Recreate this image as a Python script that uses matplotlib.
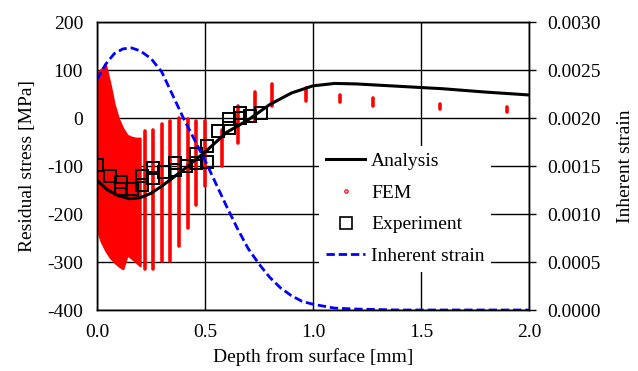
import numpy as np
import matplotlib.pyplot as plt
from matplotlib.lines import Line2D

plt.rcParams['font.family'] = ['Liberation Serif', 'DejaVu Serif']
plt.rcParams['font.size'] = 14
plt.rcParams['axes.unicode_minus'] = False

# analysis curve (residual stress, MPa)
ana_x = [0.0, 0.05, 0.10, 0.15, 0.20, 0.25, 0.30, 0.40, 0.50, 0.60, 0.70, 0.80,
         0.90, 1.00, 1.10, 1.20, 1.40, 1.60, 1.80, 2.00]
ana_y = [-130, -150, -162, -168, -166, -157, -142, -108, -71, -30, -4, 28,
         52, 67, 72, 71, 66, 61, 54, 48]

# experiment points
exp_x = [0.00, 0.06, 0.11, 0.11, 0.16, 0.21, 0.21, 0.26, 0.26, 0.31, 0.36, 0.36,
         0.41, 0.46, 0.46, 0.51, 0.51, 0.56, 0.61, 0.61, 0.66, 0.66, 0.71, 0.76]
exp_y = [-97, -120, -133, -148, -148, -140, -120, -125, -105, -112, -108, -94,
         -100, -93, -75, -91, -58, -28, -21, -3, 1, 10, 4, 11]

# FEM: dense region near surface (envelope) and discrete columns
blob_x = [0.0, 0.02, 0.04, 0.06, 0.08, 0.10, 0.12, 0.14, 0.16, 0.18, 0.20]
blob_top = [92, 102, 110, 72, 28, -2, -22, -36, -40, -42, -42]
blob_bot = [-232, -258, -276, -290, -300, -308, -314, -285, -292, -300, -308]

fem_x = [0.222, 0.261, 0.30, 0.34, 0.38, 0.42, 0.46, 0.50, 0.577, 0.652, 0.73,
         0.81, 0.968, 1.125, 1.278, 1.588, 1.898]
fem_top = [-28, -24, -13, -7, -1, -3, -7, -7, -24, 24, 55, 70, 62, 47, 41, 30, 22]
fem_bot = [-314, -314, -297, -297, -266, -230, -182, -141, -99, -53, -7, 24, 36,
           34, 26, 18, 13]

# inherent strain
str_x = [0.0, 0.04, 0.08, 0.12, 0.16, 0.20, 0.25, 0.30, 0.35, 0.40, 0.45, 0.50,
         0.55, 0.60, 0.65, 0.70, 0.75, 0.80, 0.85, 0.90, 0.95, 1.00, 1.10, 1.20,
         1.40, 2.00]
str_y = [0.00240, 0.00256, 0.00267, 0.00272, 0.00273, 0.00270, 0.00262, 0.00248,
         0.00224, 0.00200, 0.00178, 0.00156, 0.00132, 0.00108, 0.00085, 0.00064,
         0.00048, 0.00034, 0.00023, 0.00015, 0.00009, 0.00006, 0.00002, 0.00001,
         0.0, 0.0]

red = '#ff0000'
blue = '#0000ff'

fig = plt.figure(figsize=(6.38, 3.71), dpi=100)
ax = fig.add_axes([0.152, 0.1644, 0.677, 0.7763])
ax2 = ax.twinx()

ax.fill_between(blob_x, blob_bot, blob_top, color=red, lw=1.5, zorder=2)
ax.vlines(fem_x, fem_bot, fem_top, color=red, lw=2.6, capstyle='round', zorder=2)
ax.plot(exp_x, exp_y, 's', ms=8.5, mfc='none', mec='black', mew=1.4, zorder=3)
ax.plot(ana_x, ana_y, color='black', lw=2.2, zorder=4)

ax2.plot(str_x, str_y, color=blue, lw=2.0, dashes=(3.0, 1.4))

ax.set_xlim(0, 2.0)
ax.set_ylim(-400, 200)
ax2.set_ylim(0, 0.003)
ax.set_xticks(np.arange(0, 2.01, 0.5))
ax.set_xticklabels(['0.0', '0.5', '1.0', '1.5', '2.0'])
ax.set_yticks(np.arange(-400, 201, 100))
ax2.set_yticks(np.arange(0, 0.00301, 0.0005))
ax2.set_yticklabels(['%.4f' % v for v in np.arange(0, 0.00301, 0.0005)])

ax.grid(True, color='black', lw=1.0)
ax.set_axisbelow(True)
ax.tick_params(axis='y', length=0, pad=10, labelsize=14)
ax.tick_params(axis='x', length=0, pad=10, labelsize=14)
ax2.tick_params(axis='y', length=5, width=1, direction='out', pad=8, labelsize=14)
for a in (ax, ax2):
    for s in a.spines.values():
        s.set_linewidth(1.0)

ax.set_xlabel('Depth from surface [mm]', fontsize=14, labelpad=5)
ax.set_ylabel('Residual stress [MPa]', fontsize=14, labelpad=8)
ax2.set_ylabel('Inherent strain', fontsize=14, labelpad=12)

handles = [
    Line2D([], [], color='black', lw=2.2),
    Line2D([], [], ls='none', marker='o', ms=2.5, mfc='#ffb0b0', mec=red, mew=0.8),
    Line2D([], [], ls='none', marker='s', ms=9, mfc='none', mec='black', mew=1.2),
    Line2D([], [], color=blue, lw=2.0, dashes=(3.0, 1.4)),
]
labels = ['Analysis', 'FEM', 'Experiment', 'Inherent strain']
leg = ax2.legend(handles, labels, loc='upper left', bbox_to_anchor=(0.515, 0.57),
                 frameon=True, fancybox=False, edgecolor='none', facecolor='white',
                 framealpha=1, fontsize=14, handlelength=2.0, handletextpad=0.3,
                 labelspacing=0.72, borderpad=0.35, borderaxespad=0)

fig.savefig('out.png', dpi=100)
